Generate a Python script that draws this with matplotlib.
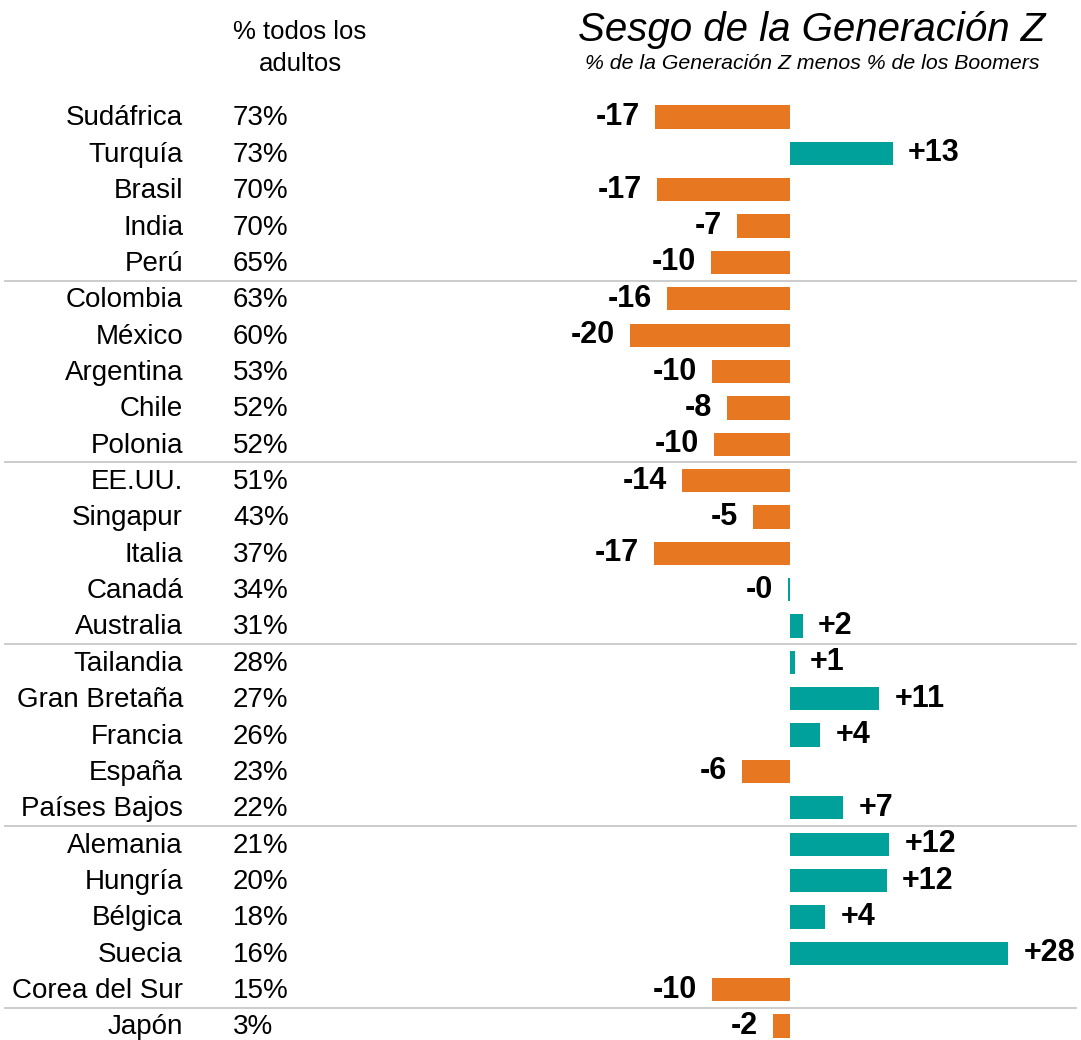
import matplotlib
matplotlib.use("Agg")
from matplotlib import pyplot as plt

plt.rcParams['font.family'] = ['Liberation Sans', 'DejaVu Sans']

countries = ["Sudáfrica", "Turquía", "Brasil", "India", "Perú",
             "Colombia", "México", "Argentina", "Chile", "Polonia",
             "EE.UU.", "Singapur", "Italia", "Canadá", "Australia",
             "Tailandia", "Gran Bretaña", "Francia", "España", "Países Bajos",
             "Alemania", "Hungría", "Bélgica", "Suecia", "Corea del Sur", "Japón"]
all_adults = [73, 73, 70, 70, 65, 63, 60, 53, 52, 52, 51, 43, 37, 34, 31,
              28, 27, 26, 23, 22, 21, 20, 18, 16, 15, 3]
genz_gap = [-17.1, 13.0, -16.8, -6.7, -10.0, -15.6, -20.3, -9.9, -8.0, -9.6,
            -13.7, -4.7, -17.2, -0.3, 1.6, 0.6, 11.3, 3.8, -6.1, 6.7,
            12.5, 12.2, 4.4, 27.6, -9.9, -2.2]

ORANGE = "#E87722"
TEAL = "#00A19A"

fig = plt.figure(figsize=(10.81, 10.40), dpi=100)
ax = fig.add_axes([0, 0, 1, 1])
ax.set_xlim(-100, 36.8)
ax.set_ylim(25.385, -3.218)
ax.axis('off')

ypos = list(range(len(countries)))
colors = [TEAL if v > -0.5 else ORANGE for v in genz_gap]
ax.barh(ypos, genz_gap, height=0.64, color=colors)

ytr = ax.get_yaxis_transform()
for i, (c, p, v) in enumerate(zip(countries, all_adults, genz_gap)):
    ax.text(0.1693, i + 0.04, c, transform=ytr, ha='right', va='center', fontsize=20)
    ax.text(0.2155, i + 0.04, f"{p}%", transform=ytr, ha='left', va='center', fontsize=20)
    lab = f"{v:+.0f}"
    if lab.startswith('-'):
        ax.annotate(lab, (min(v, 0), i), xytext=(-11, 0), textcoords='offset points',
                    ha='right', va='center', fontsize=22, fontweight='bold')
    else:
        ax.annotate(lab, (v, i), xytext=(11, 0), textcoords='offset points',
                    ha='left', va='center', fontsize=22, fontweight='bold')

# group separators
for g in [4, 9, 14, 19, 24]:
    ax.axhline(g + 0.5, xmin=0.005, xmax=0.995, color='#c8c8c8', lw=1.3)

fig.text(0.2775, 0.969, "% todos los", ha='center', va='center', fontsize=18.5)
fig.text(0.2775, 0.938, "adultos", ha='center', va='center', fontsize=18.5)
fig.text(0.9667, 0.971, "Sesgo de la Generación Z", ha='right', va='center',
         fontsize=29, style='italic')
fig.text(0.962, 0.939, "% de la Generación Z menos % de los Boomers", ha='right',
         va='center', fontsize=15.3, style='italic')

fig.savefig("out.png", dpi=100)
